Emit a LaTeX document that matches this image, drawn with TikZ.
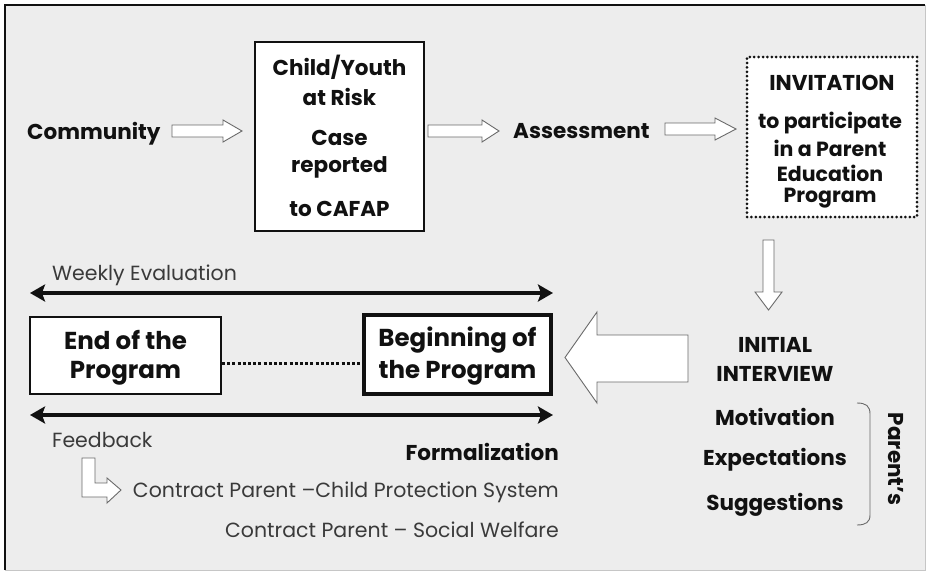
\documentclass[tikz,border=0pt]{standalone}
\usepackage{fontspec}
\setmainfont{Poppins}
\usetikzlibrary{arrows.meta}
\definecolor{panel}{HTML}{EDEDED}
\definecolor{ink}{HTML}{111111}
\definecolor{soft}{HTML}{3A3A3A}
\definecolor{outline}{HTML}{6A6A6A}
\tikzset{
  bold/.style={font=\fontsize{21.5}{24}\selectfont\bfseries, text=ink, inner sep=0pt},
  small/.style={font=\fontsize{20.5}{24}\selectfont\bfseries, text=ink, inner sep=0pt},
  big/.style={font=\fontsize{24.5}{28}\selectfont\bfseries, text=ink, inner sep=0pt},
  light/.style={font=\fontsize{20.5}{24}\selectfont, text=soft, inner sep=0pt},
  box/.style={draw=ink, fill=white, line width=2pt},
  hollow/.style={draw=outline, fill=white, line width=0.9pt, line join=miter},
  span/.style={draw=ink, line width=4pt, {Stealth[length=15pt,width=17pt,inset=3pt]}-{Stealth[length=15pt,width=17pt,inset=3pt]}},
}
% hollow block arrow: start x, tip x, centre y, head length
\newcommand\harrow[4]{%
  \draw[hollow] (#1,{#3-6}) -- ({#2-#4},{#3-6}) -- ({#2-#4},{#3-11}) -- (#2,#3)
    -- ({#2-#4},{#3+11}) -- ({#2-#4},{#3+6}) -- (#1,{#3+6}) -- cycle;}
\begin{document}
\begin{tikzpicture}[x=1pt,y=-1pt]
  % canvas and frame
  \fill[white] (0,0) rectangle (927,573);
  \useasboundingbox (0,0) rectangle (927,573);
  \fill[panel] (5,5) rectangle (925,570);
  \draw[gray!45, line width=1pt] (925,5) -- (925,570) -- (5,570);
  \draw[ink, line width=1.8pt] (5,570) -- (5,5) -- (925,5);

  % top row
  \node[bold, anchor=west] (community) at (27,134) {Community};
  \node[box, minimum width=169pt, minimum height=189pt, inner sep=0pt] (child) at (339.5,136.5) {};
  \node[bold] (c1) at (339.5,67) {Child/Youth};
  \node[bold] (c2) at (339.5,97) {at Risk};
  \node[bold] (c3) at (339.5,138) {Case};
  \node[bold] (c4) at (339.5,167) {reported};
  \node[bold] (c5) at (339.5,209) {to CAFAP};
  \node[bold, anchor=west] (assess) at (513,131) {Assessment};
  \node[draw=ink, fill=white, line width=3pt, dash pattern=on 0pt off 4.4pt, line cap=round,
        minimum width=170pt, minimum height=160pt, inner sep=0pt] (invite) at (832,137) {};
  \node[bold] (i1) at (832,83) {INVITATION};
  \node[small] (i2) at (830,123) {to participate};
  \node[small] (i3) at (830,148) {in a Parent};
  \node[small] (i4) at (830,173) {Education};
  \node[small] (i5) at (830,198) {Program};

  \harrow{172}{242}{131}{19}
  \harrow{428}{499}{131}{17}
  \harrow{665}{736}{129}{21}

  % down arrow to the interview
  \draw[hollow] (763,240) -- (774,240) -- (774,292) -- (782,292) -- (768.5,310)
    -- (755,292) -- (763,292) -- cycle;

  % interview column
  \node[bold] (ii1) at (775,345) {INITIAL};
  \node[bold] (ii2) at (775,374) {INTERVIEW};
  \node[bold] (mot) at (775,417) {Motivation};
  \node[bold] (exp) at (775,460) {Expectations};
  \node[bold] (sug) at (775,505) {Suggestions};
  \draw[outline, line width=0.9pt] (857,403) .. controls (866,403) and (870,406) .. (870,414)
    -- (870,515) .. controls (870,522) and (866,525) .. (857,525);
  \node[bold, rotate=-90] (parents) at (896,459) {Parent's};

  % big arrow into the program
  \draw[hollow] (688,335) -- (597,335) -- (597,312) -- (565,357.5) -- (597,403)
    -- (597,382) -- (688,382) -- cycle;

  % program boxes
  \node[box, minimum width=191pt, minimum height=77pt, inner sep=0pt] (endp) at (125.5,355.5) {};
  \node[big] at (125.5,340) {End of the};
  \node[big] at (125.5,373) {Program};
  \node[box, line width=4pt, minimum width=187pt, minimum height=79pt, inner sep=0pt] (begp) at (457.5,354.5) {};
  \node[big] at (457.5,340) {Beginning of};
  \node[big] at (457.5,373) {the Program};
  \draw[ink, line width=3pt, dash pattern=on 3pt off 2.2pt] (endp.east |- 0,363) -- (begp.west |- 0,363);

  % evaluation and feedback spans
  \coordinate (w1) at (30,293);
  \coordinate (w2) at (553,293);
  \coordinate (f1) at (30,415);
  \coordinate (f2) at (553,415);
  \draw[span] (w1) -- (w2);
  \draw[span] (f1) -- (f2);
  \node[light, anchor=west] (weekly) at (52,275) {Weekly Evaluation};
  \node[light, anchor=west] (feedback) at (52,440) {Feedback};
  \node[bold, anchor=east] (formal) at (559,452) {Formalization};

  % contracts
  \draw[hollow] (82,458) -- (95,458) -- (95,483) -- (107,483) -- (107,478) -- (121,490)
    -- (107,503) -- (107,497) -- (82,497) -- cycle;
  \node[light, anchor=east] (k1) at (559,492) {Contract Parent –Child Protection System};
  \node[light, anchor=east] (k2) at (559,530) {Contract Parent – Social Welfare};
\end{tikzpicture}
\end{document}
